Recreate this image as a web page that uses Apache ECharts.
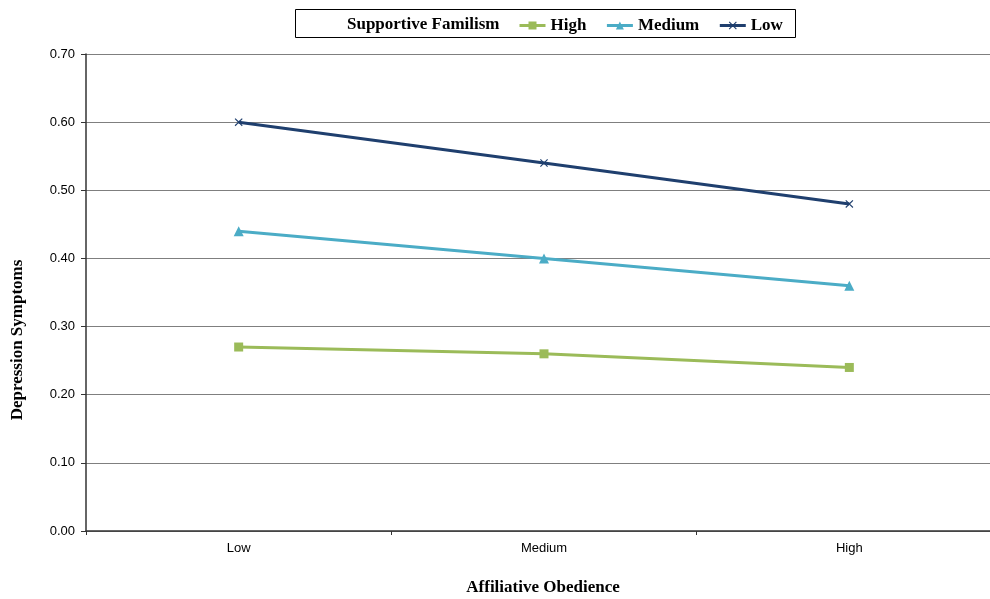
<!DOCTYPE html>
<html>
<head>
<meta charset="utf-8">
<script src="https://cdn.jsdelivr.net/npm/echarts@6/dist/echarts.min.js"></script>
<style>
  html, body { margin: 0; padding: 0; background: #fff; overflow: hidden; }
  /* plot runs past the right edge of the window, as the last band is clipped */
  #chart { width: 1002px; height: 599px; }
</style>
</head>
<body>
<div id="chart"></div>
<script>
// Affiliative obedience levels on the x axis
const categories = ['Low', 'Medium', 'High'];

// Depression symptoms by level of supportive familism
const highFamilism = [0.27, 0.26, 0.24];
const mediumFamilism = [0.44, 0.40, 0.36];
const lowFamilism = [0.60, 0.54, 0.48];

const yTicks = { min: 0, max: 0.7, interval: 0.1 };

const serif = '"Liberation Serif", "Times New Roman", serif';
const sans = '"Liberation Sans", Arial, sans-serif';

const crossPath = 'path://M0,1L1,0L5,4L9,0L10,1L6,5L10,9L9,10L5,6L1,10L0,9L4,5Z';

const chart = echarts.init(document.getElementById('chart'));

function lineSeries(name, data, color, symbol, size) {
  return {
    name: name,
    type: 'line',
    data: data,
    symbol: symbol,
    symbolSize: size,
    showSymbol: true,
    lineStyle: { color: color, width: 3 },
    itemStyle: { color: color },
    emphasis: { disabled: true },
    z: 3
  };
}

chart.setOption({
  animation: false,
  backgroundColor: '#ffffff',
  grid: { left: 86, right: 0, top: 54, bottom: 68 },
  legend: {
    left: 518,
    top: 17,
    padding: 0,
    itemWidth: 26,
    itemHeight: 10,
    itemGap: 19,
    lineStyle: { width: 3 },
    textStyle: { fontFamily: serif, fontWeight: 'bold', fontSize: 17, color: '#000' },
    data: ['High', 'Medium', 'Low']
  },
  xAxis: {
    type: 'category',
    data: categories,
    boundaryGap: true,
    axisLine: { lineStyle: { color: '#333', width: 1.5 } },
    axisTick: { show: true, length: 4, lineStyle: { color: '#333' } },
    axisLabel: { fontFamily: sans, fontSize: 13, color: '#000', margin: 11 },
    splitLine: { show: false }
  },
  yAxis: {
    type: 'value',
    min: yTicks.min,
    max: yTicks.max,
    interval: yTicks.interval,
    axisLine: { show: true, lineStyle: { color: '#333', width: 1.5 } },
    axisTick: { show: true, length: 5, lineStyle: { color: '#333' } },
    axisLabel: {
      fontFamily: sans, fontSize: 13, color: '#000', margin: 11,
      formatter: v => v.toFixed(2)
    },
    splitLine: { show: true, lineStyle: { color: '#7f7f7f', width: 1.2 } }
  },
  series: [
    lineSeries('High', highFamilism, '#9BBB59', 'rect', 9),
    lineSeries('Medium', mediumFamilism, '#4BACC6', 'triangle', 10),
    lineSeries('Low', lowFamilism, '#1F3F6E', crossPath, 8)
  ],
  graphic: [
    {
      type: 'rect',
      shape: { x: 295.5, y: 9.5, width: 500, height: 28 },
      style: { fill: 'none', stroke: '#000', lineWidth: 1 },
      z: 1
    },
    {
      type: 'text',
      x: 347, y: 25,
      style: {
        text: 'Supportive Familism',
        font: 'bold 17px ' + serif,
        fill: '#000',
        textVerticalAlign: 'middle'
      }
    },
    {
      type: 'text',
      x: 18, y: 340,
      rotation: Math.PI / 2,
      style: {
        text: 'Depression Symptoms',
        font: 'bold 17px ' + serif,
        fill: '#000',
        textAlign: 'center',
        textVerticalAlign: 'middle'
      }
    },
    {
      type: 'text',
      x: 543, y: 588,
      style: {
        text: 'Affiliative Obedience',
        font: 'bold 17px ' + serif,
        fill: '#000',
        textAlign: 'center',
        textVerticalAlign: 'middle'
      }
    }
  ]
});
</script>
</body>
</html>
